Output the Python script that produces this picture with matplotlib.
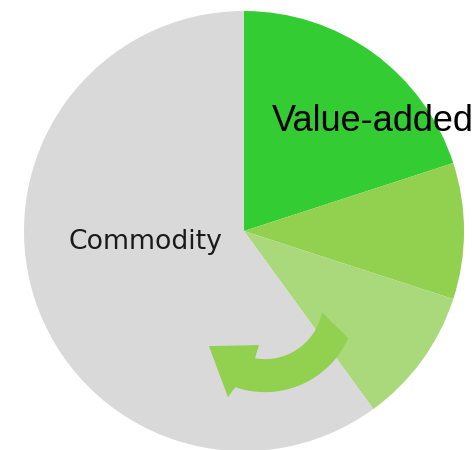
import numpy as np
import matplotlib.pyplot as plt
from matplotlib.patches import Polygon

# slice shares, clockwise from 12 o'clock
labels = ["Value-added", "", "", "Commodity"]
shares = [20, 10, 10, 60]
colors = ["#33CC33", "#92D050", "#A9D97B", "#D9D9D9"]

fig = plt.figure(figsize=(4.77, 4.5), dpi=100)
ax = fig.add_axes([0, 0, 1, 1])

ax.pie(shares, colors=colors, startangle=90, counterclock=False,
       radius=1.0, center=(0, 0), wedgeprops=dict(linewidth=0))

ax.set_xlim(-1.109, 1.059)
ax.set_ylim(-0.995, 1.05)
ax.set_aspect("auto")
ax.axis("off")

# curved return arrow (commodity <- value-added), built in polar terms
arrow_c = np.array([0.0955, -0.318])
r_in, r_out = 0.264, 0.414

def polar(ang, r):
    t = np.deg2rad(np.asarray(ang, dtype=float))
    r = np.broadcast_to(np.asarray(r, dtype=float), t.shape)
    return arrow_c + np.column_stack([r * np.cos(t), r * np.sin(t)])

outer = polar(np.linspace(-24, -109, 60), r_out)
head = polar([-111.1, -141.2, -97.8], [0.468, 0.327, 0.202])
inner = polar(np.linspace(-100, -11.3, 60), r_in)
ax.add_patch(Polygon(np.vstack([outer, head, inner]), closed=True,
                     facecolor="#92D050", edgecolor="none"))

ax.text(0.585, 0.50, labels[0], fontsize=26, family="Liberation Sans",
        color="black", ha="center", va="center")
ax.text(-0.45, -0.05, labels[3], fontsize=19.2, family="DejaVu Sans",
        color="#1a1a1a", ha="center", va="center")

fig.savefig("out.png", dpi=100)
